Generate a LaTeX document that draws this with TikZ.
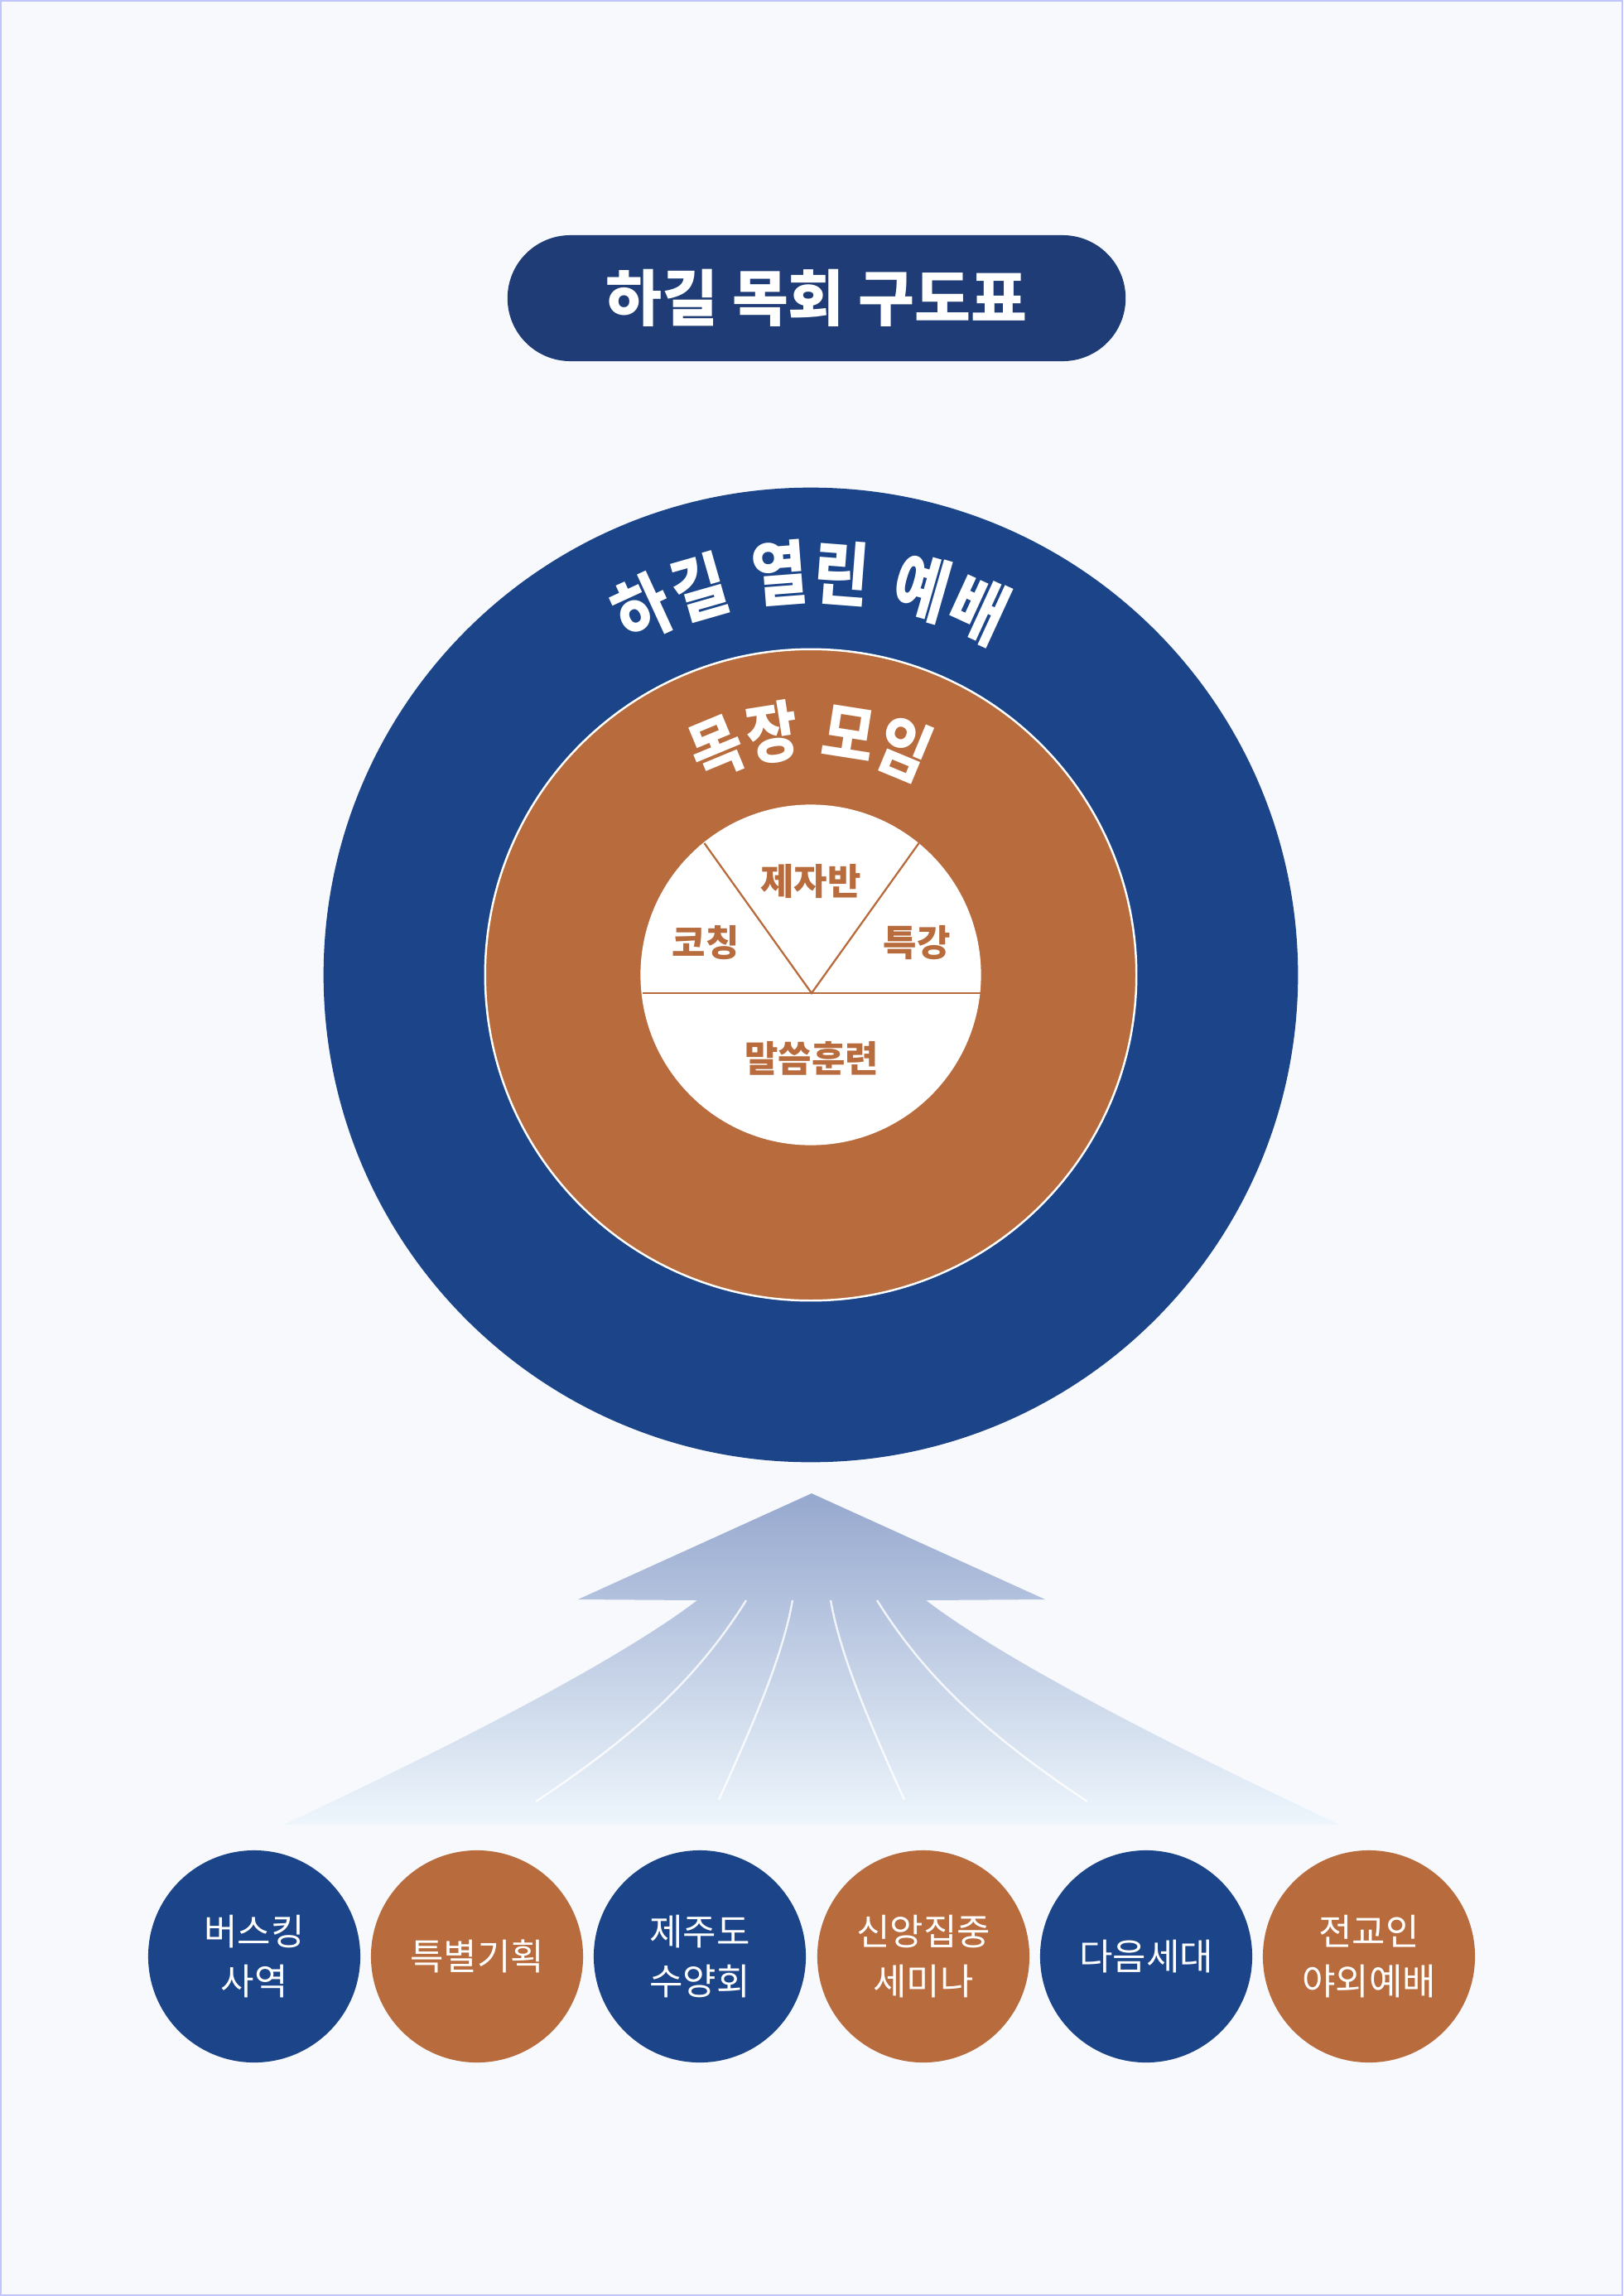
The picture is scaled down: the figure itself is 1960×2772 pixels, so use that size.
\documentclass[tikz,border=0pt]{standalone}
\usepackage{fontspec}
\newfontfamily\kr{Noto Sans CJK KR}
\usetikzlibrary{calc}
\definecolor{bg}{RGB}{247,249,252}
\definecolor{frame}{RGB}{192,196,255}
\definecolor{navy}{RGB}{31,60,118}
\definecolor{ringblue}{RGB}{27,69,136}
\definecolor{clay}{RGB}{184,108,62}
\definecolor{arrtop}{RGB}{150,168,206}
\definecolor{arrbot}{RGB}{238,246,252}
\begin{document}
\begin{tikzpicture}[x=0.01cm,y=-0.01cm,
  pill/.style={fill=navy, rounded corners=0.76cm, minimum width=7.46cm, minimum height=1.52cm, text=white, font=\kr\bfseries\fontsize{21}{25}\selectfont, inner sep=0},
  ringchar/.style={text=white, font=\kr\bfseries\fontsize{24}{28}\selectfont, inner sep=0},
  herdchar/.style={text=white, font=\kr\bfseries\fontsize{22.5}{26}\selectfont, inner sep=0},
  seglabel/.style={text=clay, font=\kr\bfseries\fontsize{12.5}{15}\selectfont, inner sep=0},
  segline/.style={draw=clay, line width=0.65pt},
  ministry/.style={circle, minimum size=2.56cm, inner sep=0, text=white, align=center, font=\kr\fontsize{12.5}{17}\selectfont},
  bluedot/.style={ministry, fill=ringblue},
  browndot/.style={ministry, fill=clay},
  streak/.style={draw=white, line width=0.7pt, opacity=0.8}
]
\path[fill=bg, draw=frame, line width=0.57pt] (1,1) rectangle (1959,2771);
\useasboundingbox (0,0) rectangle (1960,2772);

\node[pill] (title) at (986,360) {하길 목회 구도표};

\coordinate (C) at (979,1177);
\node[circle, fill=ringblue, minimum size=11.76cm, inner sep=0] (worship) at (C) {};
\node[circle, fill=clay, draw=white, line width=0.7pt, minimum size=7.86cm, inner sep=0] (herd) at (C) {};
\node[circle, fill=white, minimum size=4.11cm, inner sep=0] (core) at (C) {};

\foreach \ch/\ang [count=\i] in {하/114.7, 길/106.0, 열/94.4, 린/85.6, 예/74.0, 배/65.3}
  \node[ringchar, rotate=\ang-90, xscale=0.86] (w\i) at ($(C)+(\ang:4.86cm)$) {\ch};
\foreach \ch/\ang [count=\i] in {목/112.5, 장/98.9, 모/81.1, 임/67.5}
  \node[herdchar, rotate=\ang-90, xscale=0.86] (h\i) at ($(C)+(\ang:2.96cm)$) {\ch};

\coordinate (apex) at (980,1199);
\coordinate (vl) at (850.5,1018);
\coordinate (vr) at (1109.5,1018);
\coordinate (hl) at (776,1199);
\coordinate (hr) at (1184,1199);
\draw[segline] (vl) -- (apex) -- (vr);
\draw[segline] (hl) -- (hr);
\node[seglabel] (s1) at (979,1064) {제자반};
\node[seglabel] (s2) at (852,1138) {코칭};
\node[seglabel] (s3) at (1107,1138) {특강};
\node[seglabel] (s4) at (980,1278) {말씀훈련};

\coordinate (tip) at (980,1803);
\path[top color=arrtop, bottom color=arrbot] (tip) -- (1262,1931) -- (1118,1932) .. controls (1220,2010) and (1440,2120) .. (1618,2203) -- (342,2203) .. controls (520,2120) and (740,2010) .. (842,1932) -- (698,1931) -- cycle;
\draw[streak] (901,1932) .. controls (840,2030) and (760,2100) .. (647,2175);
\draw[streak] (957,1932) .. controls (945,2000) and (910,2080) .. (868,2173);
\draw[streak] (1003,1932) .. controls (1015,2000) and (1050,2080) .. (1092,2173);
\draw[streak] (1059,1932) .. controls (1120,2030) and (1200,2100) .. (1313,2175);

\node[bluedot] (m1) at (307,2362) {버스킹\\사역};
\node[browndot] (m2) at (576,2362) {특별기획};
\node[bluedot] (m3) at (845,2362) {제주도\\수양회};
\node[browndot] (m4) at (1115,2362) {신앙집중\\세미나};
\node[bluedot] (m5) at (1384,2362) {다음세대};
\node[browndot] (m6) at (1653,2362) {전교인\\야외예배};
\end{tikzpicture}
\end{document}
